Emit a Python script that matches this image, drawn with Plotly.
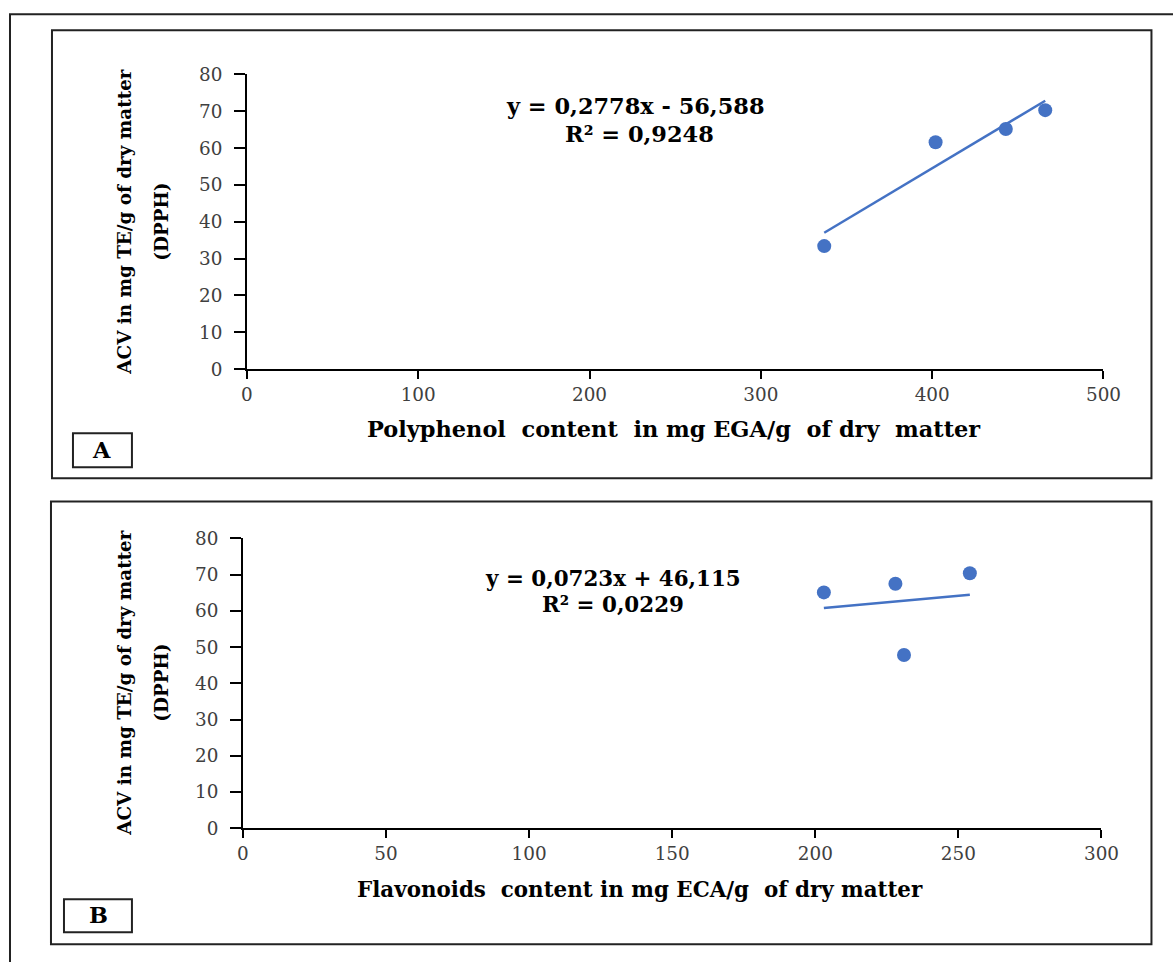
import plotly.graph_objects as go

W, H = 1173, 962

# ---------------- data ----------------
# Panel A
polyphenol = [337, 402, 443, 466]
acv_a = [33.4, 61.6, 65.2, 70.3]
slope_a, intercept_a = 0.2778, -56.588
eq_a = ["y = 0,2778x - 56,588", "R² = 0,9248"]
xticks_a = [0, 100, 200, 300, 400, 500]

# Panel B
flavonoids = [203, 228, 231, 254]
acv_b = [65.1, 67.5, 47.8, 70.4]
slope_b, intercept_b = 0.0723, 46.115
eq_b = ["y = 0,0723x + 46,115", "R² = 0,0229"]
xticks_b = [0, 50, 100, 150, 200, 250, 300]

yticks = [0, 10, 20, 30, 40, 50, 60, 70, 80]

ytitle = ["ACV in mg TE/g of dry matter", "(DPPH)"]
xtitle_a = "Polyphenol  content  in mg EGA/g  of dry  matter"
xtitle_b = "Flavonoids  content in mg ECA/g  of dry matter"

BLUE = "#4472C4"
FONT = "DejaVu Serif"

# calibration of the photographed page (screen = offset + scale * layout)
SX, OX = 0.98, 6.0
SY, OY = 0.976, 10.7
FS = 1.02  # font compensation


def px(X):
    return ((X - OX) / SX) / W


def py(Y):
    return 1 - ((Y - OY) / SY) / H


fig = go.Figure()

# trend lines from regression coefficients, over the data range
for xs, slope, icpt, xa, ya in [
    (polyphenol, slope_a, intercept_a, "x", "y"),
    (flavonoids, slope_b, intercept_b, "x2", "y2"),
]:
    x0, x1 = min(xs), max(xs)
    fig.add_trace(go.Scatter(
        x=[x0, x1], y=[slope * x0 + icpt, slope * x1 + icpt],
        mode="lines", line=dict(color=BLUE, width=2.5),
        xaxis=xa, yaxis=ya, showlegend=False, hoverinfo="skip"))

fig.add_trace(go.Scatter(x=polyphenol, y=acv_a, mode="markers",
                         marker=dict(color=BLUE, size=14),
                         xaxis="x", yaxis="y", showlegend=False))
fig.add_trace(go.Scatter(x=flavonoids, y=acv_b, mode="markers",
                         marker=dict(color=BLUE, size=14),
                         xaxis="x2", yaxis="y2", showlegend=False))

axis_common = dict(
    showgrid=False, zeroline=False, showline=True, linecolor="black",
    linewidth=1.5, ticks="outside", tickwidth=1.5,
    tickcolor="black", tickfont=dict(family=FONT, size=18 * FS, color="#404040"),
    fixedrange=True,
)
xax = dict(axis_common, ticklen=8)
yax = dict(axis_common, ticklen=11, ticklabelstandoff=8)

fig.update_layout(
    width=W, height=H, autosize=False,
    margin=dict(l=0, r=0, t=0, b=0),
    paper_bgcolor="white", plot_bgcolor="white",
    xaxis=dict(xax, domain=[px(247), px(1104)], range=[0, 500],
               tickvals=xticks_a, anchor="y"),
    yaxis=dict(yax, domain=[py(368), py(74)], range=[0, 80],
               tickvals=yticks, anchor="x"),
    xaxis2=dict(xax, domain=[px(243), px(1102)], range=[0, 300],
                tickvals=xticks_b, anchor="y2"),
    yaxis2=dict(yax, domain=[py(826), py(537)], range=[0, 80],
                tickvals=yticks, anchor="x2"),
)

frame = dict(color="#222", width=2)
shapes = [
    # outer frame
    dict(type="rect", xref="paper", yref="paper", x0=px(10), x1=px(1200),
         y0=py(14), y1=py(1000), line=frame),
    # panel frames
    dict(type="rect", xref="paper", yref="paper", x0=px(52), x1=px(1152),
         y0=py(30), y1=py(477), line=frame),
    dict(type="rect", xref="paper", yref="paper", x0=px(51), x1=px(1152),
         y0=py(500), y1=py(942), line=frame),
    # label boxes
    dict(type="rect", xref="paper", yref="paper", x0=px(73), x1=px(132),
         y0=py(432), y1=py(466), line=frame),
    dict(type="rect", xref="paper", yref="paper", x0=px(64), x1=px(132),
         y0=py(897), y1=py(930), line=frame),
]
fig.update_layout(shapes=shapes)

ann = []


def text(x, y, s, size, angle=0, bold=True):
    ann.append(dict(xref="paper", yref="paper", x=px(x), y=py(y),
                    text=f"<b>{s}</b>" if bold else s, showarrow=False,
                    xanchor="center", yanchor="middle", textangle=angle,
                    font=dict(family=FONT, size=size * FS, color="black")))


# panel A texts
text(125, 221, ytitle[0], 18, -90)
text(162, 221, ytitle[1], 18, -90)
text(674, 428, xtitle_a, 22)
text(636, 105, eq_a[0], 22)
text(640, 133, eq_a[1], 22)
text(102, 449, "A", 22)

# panel B texts
text(125, 681, ytitle[0], 18, -90)
text(162, 681, ytitle[1], 18, -90)
text(640, 887, xtitle_b, 21)
text(613, 577, eq_b[0], 21)
text(613, 603, eq_b[1], 21)
text(99, 913, "B", 22)

fig.update_layout(annotations=ann)

fig.write_html(
    "out.html",
    config={"displayModeBar": False},
    post_script=(
        "document.documentElement.style.margin='0';"
        "document.body.style.margin='0';"
        "document.body.style.overflow='hidden';"
        "document.documentElement.style.overflow='hidden';"
    ),
)
